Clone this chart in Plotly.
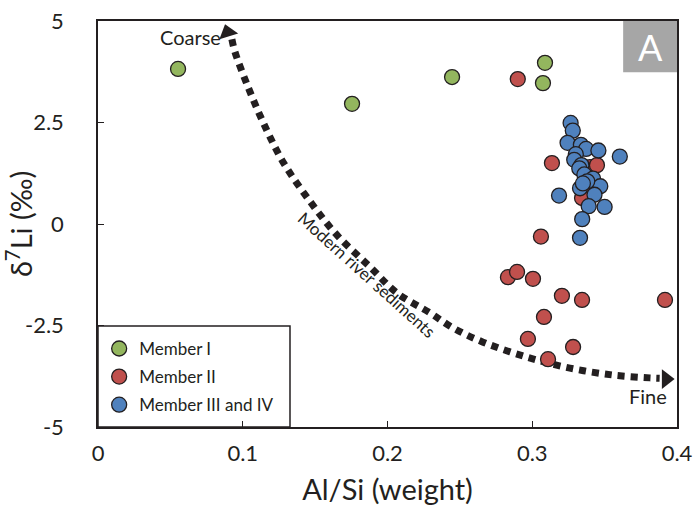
import plotly.graph_objects as go

# ---- data ----
m1_x = [0.0553, 0.1755, 0.2446, 0.3088, 0.3074]
m1_y = [3.82, 2.96, 3.62, 3.97, 3.47]

m2_x = [0.290, 0.3136, 0.306, 0.2832, 0.2895, 0.3005, 0.3205, 0.3344, 0.3917,
        0.3081, 0.297, 0.3282, 0.3109, 0.3399, 0.3447, 0.3385, 0.3344]
m2_y = [3.57, 1.50, -0.31, -1.31, -1.18, -1.35, -1.77, -1.87, -1.87,
        -2.29, -2.83, -3.03, -3.33, 1.40, 1.45, 0.84, 0.64]

m3_x = [0.3265, 0.328, 0.3244, 0.3336, 0.3372, 0.3457, 0.3605, 0.3301, 0.3290,
        0.3340, 0.3325, 0.3360, 0.3420, 0.3470, 0.3330, 0.3185, 0.3430, 0.3390,
        0.3500, 0.3345, 0.3330, 0.3380, 0.3350]
m3_y = [2.49, 2.30, 2.00, 1.95, 1.85, 1.81, 1.66, 1.72, 1.58,
        1.45, 1.37, 1.22, 1.12, 0.93, 0.88, 0.70, 0.72, 0.44,
        0.42, 0.12, -0.34, 1.05, 1.00]

curve_x = [0.0925, 0.0946, 0.1036, 0.114, 0.1278, 0.1458, 0.165, 0.188, 0.2066,
           0.2294, 0.2453, 0.266, 0.2964, 0.326, 0.3558, 0.3813, 0.388]
curve_y = [4.55, 4.24, 3.38, 2.51, 1.53, 0.59, -0.27, -1.06, -1.70,
           -2.19, -2.56, -2.91, -3.28, -3.55, -3.72, -3.79, -3.80]

x_ticks = [0, 0.1, 0.2, 0.3, 0.4]
x_labels = ["0", "0.1", "0.2", "0.3", "0.4"]
y_ticks = [-5, -2.5, 0, 2.5, 5]
y_labels = ["-5", "-2.5", "0", "2.5", "5"]

FONT = "Lato"
INK = "#231f20"

fig = go.Figure()

# legend frame (white box with border, under the legend)
fig.add_shape(type="rect", xref="paper", yref="paper", x0=0, x1=0.3316,
              y0=0, y1=0.2488, fillcolor="white", layer="below",
              line=dict(color=INK, width=1.5))

# trend curve
fig.add_trace(go.Scatter(
    x=curve_x, y=curve_y, mode="lines", showlegend=False, hoverinfo="skip",
    line=dict(color=INK, width=7, dash="7px,6px", shape="spline")))
# arrowheads
fig.add_trace(go.Scatter(
    x=[0.0895, 0.3925], y=[4.72, -3.82], mode="markers", showlegend=False,
    hoverinfo="skip",
    marker=dict(symbol="triangle-up", size=17, color=INK, angle=[-17, 90],
                line=dict(width=0))))

mk_line = dict(color=INK, width=1.3)
fig.add_trace(go.Scatter(x=m1_x, y=m1_y, mode="markers", name="Member I",
                         legendgroup="a",
                         marker=dict(size=15, color="#93b65e", line=mk_line)))
fig.add_trace(go.Scatter(x=m2_x, y=m2_y, mode="markers", name="Member II",
                         legendgroup="b",
                         marker=dict(size=15, color="#c0504d", line=mk_line)))
fig.add_trace(go.Scatter(x=m3_x, y=m3_y, mode="markers", name="Member III and IV",
                         legendgroup="c",
                         marker=dict(size=15, color="#4f81bd", line=mk_line)))

# "A" panel label
fig.add_shape(type="rect", xref="paper", yref="paper", x0=0.907, x1=1.0,
              y0=0.874, y1=1.0, fillcolor="#a6a6a6", line=dict(width=0))
fig.add_annotation(xref="paper", yref="paper", x=0.9535, y=0.937, text="A",
                   xanchor="center", yanchor="middle",
                   showarrow=False, font=dict(family=FONT, size=36, color="white"))

fig.add_annotation(x=0.0636, y=4.61, text="Coarse", showarrow=False,
                   font=dict(family=FONT, size=20, color=INK))
fig.add_annotation(x=0.380, y=-4.24, text="Fine", showarrow=False,
                   font=dict(family=FONT, size=20, color=INK))
fig.add_annotation(x=0.1855, y=-1.25, text="Modern river sediments",
                   showarrow=False, textangle=42,
                   font=dict(family=FONT, size=17, color=INK))

fig.update_layout(
    width=696, height=516,
    margin=dict(l=98, r=19, t=21, b=89),
    paper_bgcolor="white", plot_bgcolor="white",
    font=dict(family=FONT, color=INK),
    legend=dict(x=0.002, y=0.01, xanchor="left", yanchor="bottom",
                bgcolor="rgba(0,0,0,0)", borderwidth=0,
                font=dict(family=FONT, size=17, color=INK),
                tracegroupgap=3, itemwidth=30),
    xaxis=dict(range=[0, 0.4], tickvals=x_ticks, ticktext=x_labels,
               ticks="inside", ticklen=6, tickcolor=INK, tickwidth=1.3,
               showgrid=False, zeroline=False, showline=True, linecolor=INK,
               linewidth=1.5, mirror=True, tickfont=dict(size=22),
               ticklabelstandoff=6, automargin=False,
               title=dict(text="Al/Si (weight)", font=dict(size=29), standoff=15)),
    yaxis=dict(range=[-5, 5], tickvals=y_ticks, ticktext=y_labels,
               ticks="inside", ticklen=6, tickcolor=INK, tickwidth=1.3,
               showgrid=False, zeroline=False, showline=True, linecolor=INK,
               linewidth=1.5, mirror=True, tickfont=dict(size=22),
               ticklabelstandoff=28, automargin=False,
               title=dict(text="δ<sup>7</sup>Li (‰)", font=dict(size=29), standoff=16)),
)

fig.write_html("out.html")
